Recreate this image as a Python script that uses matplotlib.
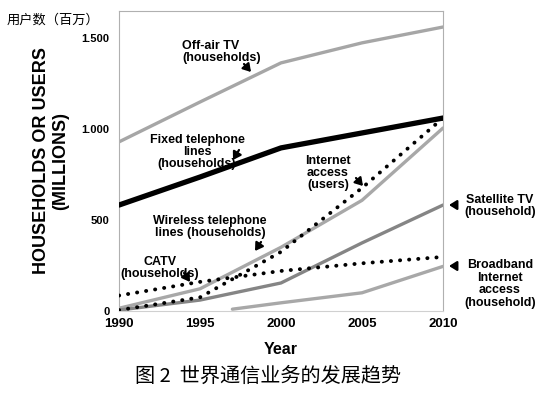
import matplotlib
matplotlib.use("Agg")
import matplotlib.pyplot as plt

plt.rcParams['font.family'] = ['Liberation Sans', 'DejaVu Sans']

years = [1990, 1995, 2000, 2005, 2010]
offair_tv = [929, 1148, 1363, 1473, 1560]
fixed_tel = [582, 736, 896, 978, 1060]
internet_users = [5, 75, 325, 676, 1060]
wireless_tel = [15, 122, 350, 608, 1005]
catv = [85, 160, 220, 262, 297]
satellite_tv = [5, 60, 154, 374, 582]
bb_years = [1997, 2000, 2005, 2010]
broadband = [10, 45, 100, 245]

yticks = [0, 500, 1000, 1500]
ytick_labels = ['0', '500', '1.000', '1.500']
xticks = [1990, 1995, 2000, 2005, 2010]

W, H = 546, 398
fig = plt.figure(figsize=(W / 100, H / 100), dpi=100)
L, R, T, B = 119, 443, 11, 311
ax = fig.add_axes([L / W, 1 - B / H, (R - L) / W, (B - T) / H])
ax.set_xlim(1990, 2010)
ax.set_ylim(0, 1648)

def px2d(px, py):
    return 1990 + (px - L) / (R - L) * 20, (B - py) / (B - T) * 1648

ax.plot(years, offair_tv, color='#a6a6a6', lw=2.4, solid_capstyle='round', zorder=2)
ax.plot(years, fixed_tel, color='black', lw=3.8, solid_capstyle='round', zorder=3)
ax.plot(years, wireless_tel, color='#a8a8a8', lw=2.4, solid_capstyle='round', zorder=2)
ax.plot(years, satellite_tv, color='#858585', lw=2.4, solid_capstyle='round', zorder=2)
ax.plot(bb_years, broadband, color='#a8a8a8', lw=2.4, solid_capstyle='round', zorder=2)
ax.plot(years, internet_users, color='black', lw=2.8, linestyle=(0, (0.05, 2.3)),
        dash_capstyle='round', zorder=4)
ax.plot(years, catv, color='black', lw=2.8, linestyle=(0, (0.05, 2.3)),
        dash_capstyle='round', zorder=4)

for s in ax.spines.values():
    s.set_color('#b0b0b0')
    s.set_linewidth(0.8)
ax.spines['bottom'].set_color('#d0d0d0')

ax.set_yticks(yticks)
ax.set_yticklabels(ytick_labels, fontsize=8, fontweight='bold')
ax.set_xticks(xticks)
ax.set_xticklabels([str(x) for x in xticks], fontsize=9.5, fontweight='bold')
ax.tick_params(length=0, pad=7)
ax.tick_params(axis='x', pad=5)

fs = 9
def label(text, px, py, ha='center'):
    x, y = px2d(px, py)
    ax.text(x, y, text, ha=ha, va='center', fontsize=fs, fontweight='bold',
            linespacing=1.05, clip_on=False, zorder=6)

label('Off-air TV\n(households)', 182, 52, ha='left')
label('Fixed telephone\nlines\n(households)', 197, 152)
label('Internet\naccess\n(users)', 328, 173)
label('Wireless telephone\nlines (households)', 210, 227)
label('CATV\n(households)', 160, 268)
label('Satellite TV\n(household)', 500, 206)
label('Broadband\nInternet\naccess\n(household)', 500, 284)

def arrow(p0, p1):
    ax.annotate('', xy=px2d(*p1), xytext=px2d(*p0), annotation_clip=False,
                arrowprops=dict(arrowstyle='-|>,head_length=0.45,head_width=0.28',
                                color='black', lw=1.6, shrinkA=0, shrinkB=0),
                zorder=7)

arrow((244, 64), (251, 72))
arrow((239, 150), (233, 160))
arrow((356, 178), (363, 186))
arrow((261, 242), (255, 251))
arrow((184, 273), (190, 282))
arrow((456, 205), (449, 205))
arrow((456, 266), (449, 266))

fig.text(51 / W, 1 - 161 / H, 'HOUSEHOLDS OR USERS\n(MILLIONS)', rotation=90,
         ha='center', va='center', fontsize=13, fontweight='bold', linespacing=1.1)
fig.text(7 / W, 1 - 20 / H, '用户数（百万）', ha='left', va='center', fontsize=9.5,
         family=['Noto Sans CJK SC', 'DejaVu Sans'])
fig.text(281 / W, 1 - 349 / H, 'Year', ha='center', va='center', fontsize=11.5,
         fontweight='bold')
fig.text(268 / W, 1 - 376 / H, '图 2  世界通信业务的发展趋势', ha='center', va='center',
         fontsize=14.5, style='italic', family=['Noto Sans CJK SC', 'DejaVu Sans'])

fig.savefig('out.png', dpi=100)
